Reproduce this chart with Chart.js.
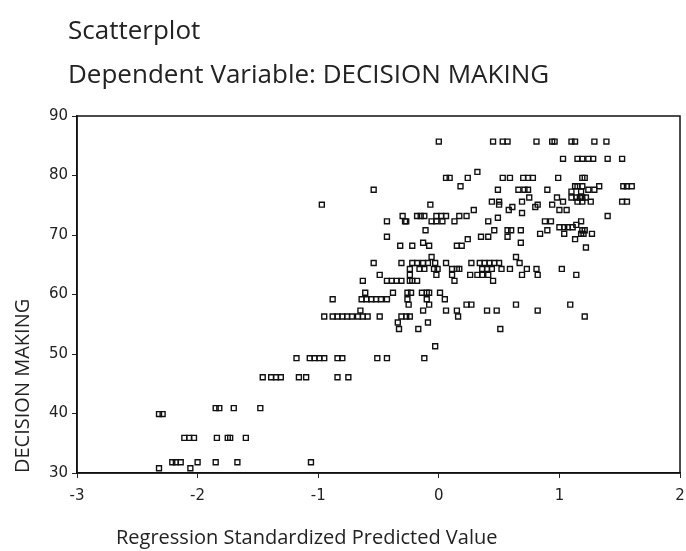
<!DOCTYPE html>
<html>
<head>
<meta charset="utf-8">
<script src="https://cdn.jsdelivr.net/npm/chart.js@4.4.1/dist/chart.umd.min.js"></script>
<style>
  html, body { margin: 0; padding: 0; background: #fff; }
  #wrap { width: 686px; height: 551px; }
</style>
</head>
<body>
<div id="wrap"><canvas id="scatterChart" width="686" height="551"></canvas></div>
<script>
// DECISION MAKING score of each row of points
const levels = [85.7, 82.8, 80.6, 79.6, 78.2, 77.6, 77.3, 76.3, 75.6, 75.1, 74.7, 74.2, 73.7, 73.2,
  72.9, 72.3, 71.7, 71.3, 70.8, 70.2, 69.7, 69.3, 68.7, 68.2, 67.9, 66.3, 65.3, 64.3, 63.3, 62.3,
  60.3, 59.2, 58.3, 57.3, 56.3, 55.3, 54.2, 51.3, 49.3, 46.1, 40.9, 39.9, 35.9, 31.8, 30.8];

// standardized predicted values of the points on each of those rows
const predicted = [
  [0.00, 0.45, 0.53, 0.57, 0.81, 0.94, 0.96, 1.10, 1.13, 1.29, 1.39],
  [1.03, 1.15, 1.19, 1.24, 1.28, 1.40, 1.52],
  [0.32],
  [0.06, 0.09, 0.24, 0.53, 0.59, 0.70, 0.74, 0.78, 0.99, 1.19, 1.21],
  [0.18, 1.13, 1.15, 1.19, 1.33, 1.53, 1.56, 1.60],
  [-0.54, 0.49, 0.66, 0.71, 0.74, 0.90, 1.24, 1.29],
  [1.10, 1.18],
  [0.75, 0.98, 1.10, 1.14, 1.17, 1.19, 1.22],
  [0.44, 0.50, 0.69, 1.03, 1.15, 1.19, 1.26, 1.52, 1.56],
  [-0.97, -0.07, 0.50, 0.82, 0.94],
  [0.61, 0.80],
  [0.29, 0.58, 1.00, 1.06],
  [0.69],
  [-0.30, -0.18, -0.15, -0.12, -0.02, 0.02, 0.06, 0.17, 0.23, 1.40],
  [0.49],
  [-0.43, -0.28, -0.27, -0.06, -0.02, 0.03, 0.13, 0.41, 0.88, 0.93, 1.18],
  [1.14],
  [1.00, 1.04, 1.07, 1.11],
  [-0.11, 0.46, 0.57, 0.60, 0.68, 0.90, 1.19, 1.21],
  [0.84, 1.04, 1.18, 1.20, 1.27],
  [-0.43, 0.35, 0.41, 0.57],
  [0.24, 1.13],
  [-0.13, 0.68],
  [-0.32, -0.22, -0.08, 0.15, 0.19],
  [1.22],
  [-0.06, 0.64],
  [-0.54, -0.31, -0.22, -0.18, -0.13, -0.09, -0.03, 0.06, 0.27, 0.34, 0.38, 0.42, 0.46, 0.50, 0.67],
  [-0.24, -0.16, -0.12, -0.04, -0.01, 0.11, 0.15, 0.17, 0.36, 0.40, 0.44, 0.52, 0.59, 0.73, 0.81, 1.02],
  [-0.49, -0.24, -0.02, 0.11, 0.26, 0.32, 0.36, 0.41, 0.69, 0.82, 1.14],
  [-0.63, -0.43, -0.39, -0.35, -0.31, -0.24, -0.22, -0.18, 0.13, 0.45],
  [-0.61, -0.38, -0.26, -0.23, -0.14, -0.10, -0.08, 0.01],
  [-0.88, -0.64, -0.60, -0.56, -0.52, -0.48, -0.43, -0.26, -0.10, 0.05],
  [-0.25, -0.08, 0.23, 0.27, 0.64, 1.09],
  [-0.65, -0.13, 0.06, 0.15, 0.40, 0.48, 0.82],
  [-0.95, -0.88, -0.84, -0.80, -0.76, -0.72, -0.67, -0.63, -0.59, -0.49, -0.31, -0.27, -0.24, 0.16, 1.21],
  [-0.34, -0.09],
  [-0.33, -0.17, 0.51],
  [-0.03],
  [-1.18, -1.07, -1.03, -0.99, -0.95, -0.84, -0.80, -0.51, -0.43, -0.12],
  [-1.46, -1.39, -1.35, -1.31, -1.16, -1.10, -0.84, -0.75],
  [-1.85, -1.82, -1.70, -1.48],
  [-2.32, -2.29],
  [-2.11, -2.07, -2.03, -1.84, -1.75, -1.73, -1.60],
  [-2.21, -2.18, -2.14, -2.00, -1.85, -1.67, -1.06],
  [-2.32, -2.06]
];

const xRange = [-3, 2];
const yRange = [30, 90];
const titleLines = ['Scatterplot', 'Dependent Variable: DECISION MAKING'];
const xTitle = 'Regression Standardized Predicted Value';
const yTitle = 'DECISION MAKING';

// flatten rows into {x, y} points
const points = [];
levels.forEach((y, i) => {
  predicted[i].forEach(x => points.push({ x: x, y: y }));
});

// box round the plot plus the titles that sit outside the axes
const frameAndTitles = {
  id: 'frameAndTitles',
  afterDraw(chart) {
    const { ctx, chartArea } = chart;
    ctx.save();
    ctx.strokeStyle = '#111';
    ctx.lineWidth = 1.5;
    ctx.strokeRect(chartArea.left, chartArea.top, chartArea.right - chartArea.left, chartArea.bottom - chartArea.top);

    ctx.fillStyle = '#222';
    ctx.textBaseline = 'middle';
    ctx.font = '26px "Open Sans"';
    ctx.fillText(titleLines[0], 68, 32);
    ctx.fillText(titleLines[1], 68, 76);
    ctx.font = '20px "Open Sans"';
    ctx.fillText(xTitle, 116, 538);
    ctx.restore();
  }
};

const ctx = document.getElementById('scatterChart').getContext('2d');
new Chart(ctx, {
  type: 'scatter',
  data: {
    datasets: [{
      data: points,
      pointStyle: 'rect',
      pointRadius: 3.5,
      pointBorderWidth: 1.4,
      borderColor: '#111',
      backgroundColor: 'rgba(0,0,0,0)'
    }]
  },
  options: {
    responsive: false,
    animation: false,
    layout: { padding: { top: 116, right: 6, left: 0, bottom: 0 } },
    plugins: {
      legend: { display: false },
      tooltip: { enabled: false }
    },
    scales: {
      x: {
        type: 'linear',
        min: xRange[0],
        max: xRange[1],
        afterFit: scale => {
          scale.height = 78;
          scale.paddingRight = 4;  // tick padding would otherwise widen the right margin
        },
        ticks: {
          stepSize: 1,
          color: '#222',
          padding: 9,
          font: { family: 'DejaVu Sans', size: 15 }
        },
        grid: { drawOnChartArea: false, drawTicks: true, tickLength: 5, color: '#222' },
        border: { display: true, color: '#111', width: 1.5 }
      },
      y: {
        min: yRange[0],
        max: yRange[1],
        afterFit: scale => { scale.width = 77; },
        ticks: {
          stepSize: 10,
          color: '#222',
          padding: 4,
          font: { family: 'DejaVu Sans', size: 15 }
        },
        grid: { drawOnChartArea: false, drawTicks: true, tickLength: 5, color: '#222' },
        border: { display: true, color: '#111', width: 1.5 },
        title: {
          display: true,
          text: yTitle,
          align: 'start',
          color: '#222',
          padding: { top: 11 },
          font: { family: 'Open Sans', size: 20 }
        }
      }
    }
  },
  plugins: [frameAndTitles]
});
</script>
</body>
</html>
